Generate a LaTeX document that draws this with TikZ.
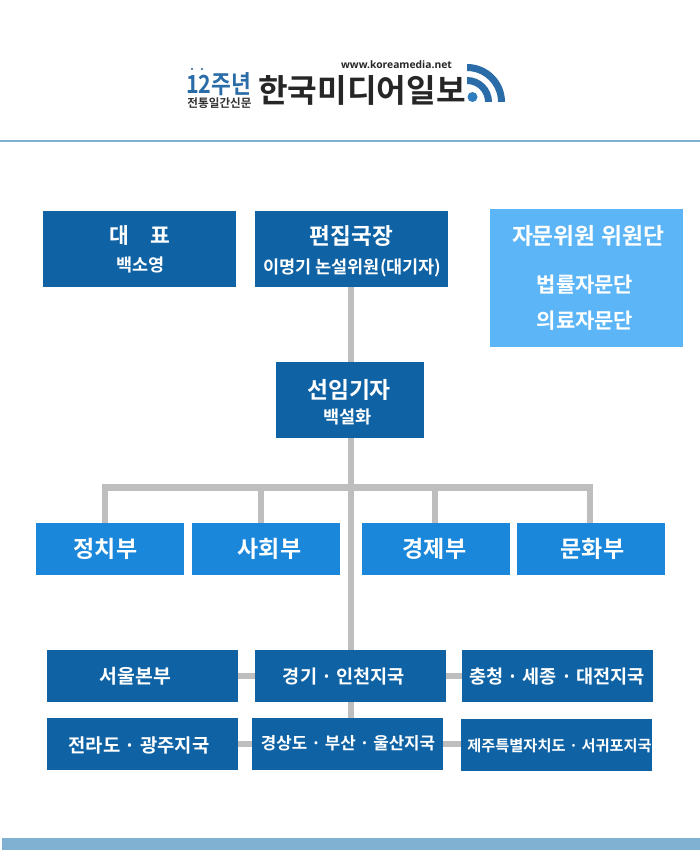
\documentclass[tikz,border=0pt]{standalone}
\usepackage{fontspec}
\setmainfont{Noto Sans CJK KR}[BoldFont={* Bold}]
\newfontfamily\latinfont{Open Sans}[BoldFont={* Bold}]
\definecolor{darkbox}{HTML}{0F63A5}
\definecolor{midbox}{HTML}{1A87DA}
\definecolor{lightbox}{HTML}{5CB5F6}
\definecolor{conn}{HTML}{BEBEBE}
\definecolor{rulecol}{HTML}{80B0D2}
\definecolor{logoblue}{HTML}{2A6CA8}
\definecolor{logolight}{HTML}{2F7DBF}
\newcommand{\fs}[1]{\fontsize{#1}{#1}\selectfont}
\tikzset{
  x=1pt,y=-1pt,
  boxtext/.style={text=white,inner sep=0pt,font=\bfseries},
  link/.style={draw=conn,line width=6.3pt},
}
\newcommand{\orgnode}[6]{% name, x0, y0, x1, y1, colour
  \node[fill=#6,inner sep=0pt,minimum width={(#4)-(#2)},minimum height={(#5)-(#3)},anchor=north west] (#1) at (#2,#3) {};
}
\newcommand{\boxlabel}[5]{% name, cx, cy, size, text
  \node[boxtext] (#1) at (#2,#3) {\fs{#4}#5};
}
\begin{document}
\begin{tikzpicture}
\useasboundingbox (0,0) rectangle (700,850);
\fill[white] (0,0) rectangle (700,850);

% rules
\fill[rulecol] (0,140.3) rectangle (700,141.8);
\fill[rulecol] (2,838) rectangle (700,850);

% connectors underneath the boxes
\coordinate (busL) at (105,487.5);
\coordinate (busR) at (590,487.5);
\coordinate (drop1) at (261,487.5);
\coordinate (drop2) at (435,487.5);
\coordinate (trunkB) at (351.3,287);
\coordinate (trunkC) at (351.3,718);
\draw[link] (trunkB) -- (trunkC);
\draw[link,line cap=rect] (busL) -- (busR);
\coordinate (end0) at (105,523);
\coordinate (end1) at (261,523);
\coordinate (end2) at (435,523);
\coordinate (end3) at (590,523);
\draw[link] (busL) -- (end0);
\draw[link] (drop1) -- (end1);
\draw[link] (drop2) -- (end2);
\draw[link] (busR) -- (end3);

% boxes
\orgnode{ceo}{43}{211}{236}{287}{darkbox}
\orgnode{editor}{255}{211}{448}{287}{darkbox}
\orgnode{advise}{490}{209}{683}{347}{lightbox}
\orgnode{senior}{276}{362}{424}{438}{darkbox}
\orgnode{pol}{36}{523}{184}{575}{midbox}
\orgnode{soc}{192}{523}{340}{575}{midbox}
\orgnode{eco}{362}{523}{510}{575}{midbox}
\orgnode{cul}{517}{523}{665}{575}{midbox}
\orgnode{seoul}{47}{650}{238}{702}{darkbox}
\orgnode{gyeonggi}{255}{650}{446}{702}{darkbox}
\orgnode{chung}{462}{650}{653}{702}{darkbox}
\orgnode{jeolla}{47}{718}{238}{770}{darkbox}
\orgnode{gyeongsang}{252}{718}{443}{770}{darkbox}
\orgnode{jeju}{461}{719}{652}{771}{darkbox}

\draw[link] (seoul.east) -- (gyeonggi.west);
\draw[link] (gyeonggi.east) -- (chung.west);
\draw[link] (jeolla.east) -- (gyeongsang.west);
\coordinate (jejuin) at (461,744);
\draw[link] (gyeongsang.east) -- (gyeongsang.east -| jejuin);

% labels
\boxlabel{t1}{140}{235}{21.5}{대\hspace{22pt}표}
\boxlabel{t2}{140.5}{265}{17.5}{백소영}
\boxlabel{t3}{351.5}{236}{22.6}{편집국장}
\boxlabel{t4}{352.5}{268}{17.5}{이명기 논설위원(대기자)}
\boxlabel{t5}{588}{236}{22.8}{자문위원 위원단}
\boxlabel{t6}{585}{285}{21}{법률자문단}
\boxlabel{t7}{585}{321}{21}{의료자문단}
\boxlabel{t8}{349}{390}{22.8}{선임기자}
\boxlabel{t9}{347.5}{417}{17.5}{백설화}
\boxlabel{t10}{105.5}{549}{23}{정치부}
\boxlabel{t11}{269.5}{549}{23}{사회부}
\boxlabel{t12}{434.5}{549}{23}{경제부}
\boxlabel{t13}{592.5}{549}{23}{문화부}
\boxlabel{t14}{135.5}{676}{19.4}{서울본부}
\boxlabel{t15}{344}{677}{18.6}{경기 · 인천지국}
\boxlabel{t16}{557}{677}{18.6}{충청 · 세종 · 대전지국}
\boxlabel{t17}{139}{745}{18.8}{전라도 · 광주지국}
\boxlabel{t18}{348}{743}{16.8}{경상도 · 부산 · 울산지국}
\boxlabel{t19}{559.5}{746}{15.25}{제주특별자치도 · 서귀포지국}

% logo
\node[font=\bfseries\fs{25},text=logoblue,inner sep=0pt,xscale=.86] (logoa) at (218.5,84) {12주년};
\node[font=\bfseries\fs{11.6},text=black!80,inner sep=0pt] (logob) at (219.5,103) {전통일간신문};
\fill[logoblue!85!black] (192,69) circle (1.2) (202,69) circle (1.2);
\node[font=\bfseries\fs{32.2},text=black!85,inner sep=0pt] (logoc) at (362,90) {한국미디어일보};
\node[font=\latinfont\bfseries\fs{10.3},text=black!85,inner sep=0pt] (logod) at (396.5,65) {www.koreamedia.net};
\fill[logoblue] (467,64) arc[start angle=-90,end angle=0,radius=38] -- ++(-7,0) arc[start angle=0,end angle=-90,radius=31] -- cycle;
\fill[logoblue] (467,77) arc[start angle=-90,end angle=0,radius=25] -- ++(-7,0) arc[start angle=0,end angle=-90,radius=18] -- cycle;
\fill[logolight] (472.5,97) circle (5);
\end{tikzpicture}
\end{document}
